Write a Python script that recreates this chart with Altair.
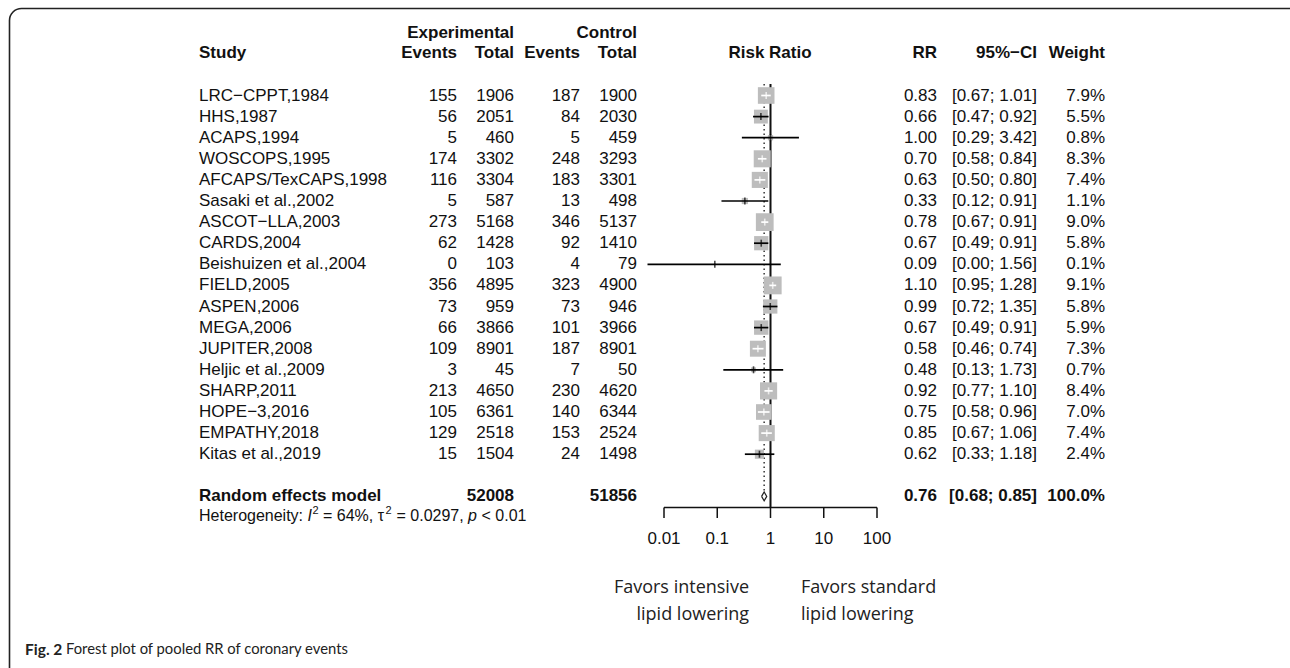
import math
import altair as alt
import pandas as pd

# ---------------- data ----------------
studies = ["LRC\u2212CPPT,1984", "HHS,1987", "ACAPS,1994", "WOSCOPS,1995",
           "AFCAPS/TexCAPS,1998", "Sasaki et al.,2002", "ASCOT\u2212LLA,2003",
           "CARDS,2004", "Beishuizen et al.,2004", "FIELD,2005", "ASPEN,2006",
           "MEGA,2006", "JUPITER,2008", "Heljic et al.,2009", "SHARP,2011",
           "HOPE\u22123,2016", "EMPATHY,2018", "Kitas et al.,2019"]
events_exp = [155, 56, 5, 174, 116, 5, 273, 62, 0, 356, 73, 66, 109, 3, 213, 105, 129, 15]
total_exp = [1906, 2051, 460, 3302, 3304, 587, 5168, 1428, 103, 4895, 959, 3866, 8901, 45,
             4650, 6361, 2518, 1504]
events_ctl = [187, 84, 5, 248, 183, 13, 346, 92, 4, 323, 73, 101, 187, 7, 230, 140, 153, 24]
total_ctl = [1900, 2030, 459, 3293, 3301, 498, 5137, 1410, 79, 4900, 946, 3966, 8901, 50,
             4620, 6344, 2524, 1498]
rr = [0.83, 0.66, 1.00, 0.70, 0.63, 0.33, 0.78, 0.67, 0.09, 1.10, 0.99, 0.67, 0.58, 0.48,
      0.92, 0.75, 0.85, 0.62]
ci_low = [0.67, 0.47, 0.29, 0.58, 0.50, 0.12, 0.67, 0.49, 0.0049, 0.95, 0.72, 0.49, 0.46,
          0.13, 0.77, 0.58, 0.67, 0.33]
ci_high = [1.01, 0.92, 3.42, 0.84, 0.80, 0.91, 0.91, 0.91, 1.56, 1.28, 1.35, 0.91, 0.74,
           1.73, 1.10, 0.96, 1.06, 1.18]
weight = [7.9, 5.5, 0.8, 8.3, 7.4, 1.1, 9.0, 5.8, 0.1, 9.1, 5.8, 5.9, 7.3, 0.7, 8.4, 7.0,
          7.4, 2.4]

pooled_total_exp = 52008
pooled_total_ctl = 51856
pooled_rr = 0.76
pooled_low = 0.68
pooled_high = 0.85
pooled_weight = 100.0

tick_values = [0.01, 0.1, 1, 10, 100]
tick_labels = ["0.01", "0.1", "1", "10", "100"]

# ---------------- layout / style ----------------
W, H = 1290, 668
FONT = "Liberation Sans"
SANS2 = "Open Sans"
CAPF = "Lato"
INK = "#111111"
FS = 17
X_RANGE = [664, 877]
Y_DOMAIN = [0, 19]
Y_RANGE = [95.5, 496.4]
SQ = 35  # square area (px^2) per weight percent

xscale = alt.Scale(type="log", domain=[0.01, 100], range=X_RANGE, nice=False, clamp=False)
yscale = alt.Scale(type="linear", domain=Y_DOMAIN, range=Y_RANGE, nice=False, zero=False)

px_decade = (X_RANGE[1] - X_RANGE[0]) / 4.0


def ci_color(r, lo, hi, w):
    half = math.sqrt(SQ * w) / 2
    inside = (px_decade * math.log10(r / lo) <= half) and (px_decade * math.log10(hi / r) <= half)
    return "white" if inside else "black"


df = pd.DataFrame({
    "study": studies, "ev_e": events_exp, "n_e": total_exp, "ev_c": events_ctl,
    "n_c": total_ctl, "rr": rr, "lo": ci_low, "hi": ci_high, "w": weight,
})
df["row"] = list(range(len(df)))
df["ci_txt"] = [f"[{l:.2f}; {h:.2f}]" for l, h in zip(df.lo, df.hi)]
df["w_txt"] = [f"{w:.1f}%" for w in df.w]
df["ci_col"] = [ci_color(r, l, h, w) for r, l, h, w in zip(df.rr, df.lo, df.hi, df.w)]

pool = pd.DataFrame({
    "label": ["Random effects model"], "n_e": [pooled_total_exp], "n_c": [pooled_total_ctl],
    "rr": [pooled_rr], "lo": [pooled_low], "hi": [pooled_high], "w": [pooled_weight],
    "row": [19],
})
pool["ci_txt"] = [f"[{pooled_low:.2f}; {pooled_high:.2f}]"]
pool["w_txt"] = [f"{pooled_weight:.1f}%"]

Y = alt.Y("row:Q", scale=yscale, axis=None)


def col_text(data, field, x, align="right", bold=False, fmt=None):
    txt = alt.Text(f"{field}:Q", format=fmt) if fmt else alt.Text(f"{field}")
    return alt.Chart(data).mark_text(
        align=align, baseline="middle", font=FONT, fontSize=FS,
        fontWeight="bold" if bold else "normal", color=INK,
    ).encode(x=alt.value(x), y=Y, text=txt)


one = pd.DataFrame({"k": [0]})


def label(text, x, y, align="left", bold=False, size=FS, font=FONT, italic=False,
          color=INK, baseline="middle"):
    return alt.Chart(pd.DataFrame({"t": [text]})).mark_text(
        align=align, baseline=baseline, font=font, fontSize=size,
        fontWeight="bold" if bold else "normal",
        fontStyle="italic" if italic else "normal", color=color,
    ).encode(x=alt.value(x), y=alt.value(y), text="t:N")


layers = []

# frame
layers.append(alt.Chart(one).mark_rect(
    fill=None, filled=False, stroke="#222222", strokeWidth=1.6, cornerRadius=12,
).encode(x=alt.value(9.5), x2=alt.value(1320), y=alt.value(8.5), y2=alt.value(700)))

# headers
layers += [
    label("Experimental", 514, 33, align="right", bold=True),
    label("Control", 637, 33, align="right", bold=True),
    label("Study", 199, 53, bold=True),
    label("Events", 457, 53, align="right", bold=True),
    label("Total", 514, 53, align="right", bold=True),
    label("Events", 580, 53, align="right", bold=True),
    label("Total", 637, 53, align="right", bold=True),
    label("Risk Ratio", 770, 53, align="center", bold=True),
    label("RR", 937, 53, align="right", bold=True),
    label("95%\u2212CI", 1037, 53, align="right", bold=True),
    label("Weight", 1105, 53, align="right", bold=True),
]

# study table columns
layers += [
    col_text(df, "study", 199, align="left"),
    col_text(df, "ev_e", 457, fmt="d"),
    col_text(df, "n_e", 514, fmt="d"),
    col_text(df, "ev_c", 580, fmt="d"),
    col_text(df, "n_c", 637, fmt="d"),
    col_text(df, "rr", 937, fmt=".2f"),
    col_text(df, "ci_txt", 1037),
    col_text(df, "w_txt", 1105),
]

# pooled row
layers += [
    col_text(pool, "label", 199, align="left", bold=True),
    col_text(pool, "n_e", 514, bold=True, fmt="d"),
    col_text(pool, "n_c", 637, bold=True, fmt="d"),
    col_text(pool, "rr", 937, bold=True, fmt=".2f"),
    col_text(pool, "ci_txt", 1037, bold=True),
    col_text(pool, "w_txt", 1105, bold=True),
]

# heterogeneity line
HY = 516
HS = 16
SUP = 11
layers += [
    label("Heterogeneity:", 199, HY, size=HS),
    label("I", 307.5, HY, size=HS, italic=True),
    label("2", 312.5, HY - 5, size=SUP),
    label("= 64%, \u03c4", 323, HY, size=HS),
    label("2", 385.5, HY - 5, size=SUP),
    label("= 0.0297,", 396.5, HY, size=HS),
    label("p", 468, HY, size=HS, italic=True),
    label("< 0.01", 481.5, HY, size=HS),
]

# reference lines
ref = pd.DataFrame({"x": [1.0]})
layers.append(alt.Chart(ref).mark_rule(color="#111111", strokeWidth=2).encode(
    x=alt.X("x:Q", scale=xscale, axis=None), y=alt.value(84), y2=alt.value(507)))
pref = pd.DataFrame({"x": [pooled_rr]})
layers.append(alt.Chart(pref).mark_rule(color="#333333", strokeWidth=1.5,
                                        strokeDash=[1.5, 3]).encode(
    x=alt.X("x:Q", scale=xscale, axis=None), y=alt.value(84), y2=alt.value(491)))

# squares
layers.append(alt.Chart(df).mark_point(shape="square", filled=True, color="#BDBDBD",
                                       opacity=1, strokeWidth=0).encode(
    x=alt.X("rr:Q", scale=xscale, axis=None), y=Y,
    size=alt.Size("w:Q", scale=alt.Scale(type="linear", domain=[0, 10],
                                         range=[0, SQ * 10], zero=True), legend=None)))

# CI lines
layers.append(alt.Chart(df).mark_rule(strokeWidth=1.7).encode(
    x=alt.X("lo:Q", scale=xscale, axis=None), x2="hi:Q", y=Y,
    color=alt.Color("ci_col:N", scale=None)))

# point estimate ticks
layers.append(alt.Chart(df).mark_tick(orient="vertical", size=7, thickness=1.6).encode(
    x=alt.X("rr:Q", scale=xscale, axis=None), y=Y,
    color=alt.Color("ci_col:N", scale=None)))

# pooled diamond
dia = pd.DataFrame({
    "x": [pooled_low, pooled_rr, pooled_high, pooled_rr, pooled_low],
    "row": [19, 18.79, 19, 19.21, 19],
    "o": [0, 1, 2, 3, 4],
})
layers.append(alt.Chart(dia).mark_line(color="#222222", strokeWidth=1.2).encode(
    x=alt.X("x:Q", scale=xscale, axis=None), y=Y, order="o:Q"))

# x axis (drawn)
axl = pd.DataFrame({"a": [tick_values[0]], "b": [tick_values[-1]]})
layers.append(alt.Chart(axl).mark_rule(color="#111111", strokeWidth=1.5).encode(
    x=alt.X("a:Q", scale=xscale, axis=None), x2="b:Q", y=alt.value(507.5)))
ticks = pd.DataFrame({"v": tick_values, "lab": tick_labels})
layers.append(alt.Chart(ticks).mark_rule(color="#111111", strokeWidth=1.5).encode(
    x=alt.X("v:Q", scale=xscale, axis=None), y=alt.value(507.5), y2=alt.value(518)))
layers.append(alt.Chart(ticks).mark_text(font=FONT, fontSize=FS, color=INK,
                                         baseline="middle", align="center").encode(
    x=alt.X("v:Q", scale=xscale, axis=None), y=alt.value(539), text="lab:N"))

# favors labels
FAV = 18
layers += [
    label("Favors intensive", 749, 588, align="right", font=SANS2, size=FAV, color="#222222"),
    label("lipid lowering", 749, 615, align="right", font=SANS2, size=FAV, color="#222222"),
    label("Favors standard", 801, 588, align="left", font=SANS2, size=FAV, color="#222222"),
    label("lipid lowering", 801, 615, align="left", font=SANS2, size=FAV, color="#222222"),
]

# caption
layers += [
    label("Fig. 2", 25, 650, bold=True, font=CAPF, size=15.5, color="#222222"),
    label("Forest plot of pooled RR of coronary events", 66, 650, font=CAPF, size=14.8,
          color="#222222"),
]

chart = alt.layer(*layers).properties(
    width=W, height=H, autosize=alt.AutoSizeParams(type="none"), padding=0,
    background="white",
).configure_view(stroke=None)

chart.save("out.html", embed_options={"renderer": "svg", "actions": False})
